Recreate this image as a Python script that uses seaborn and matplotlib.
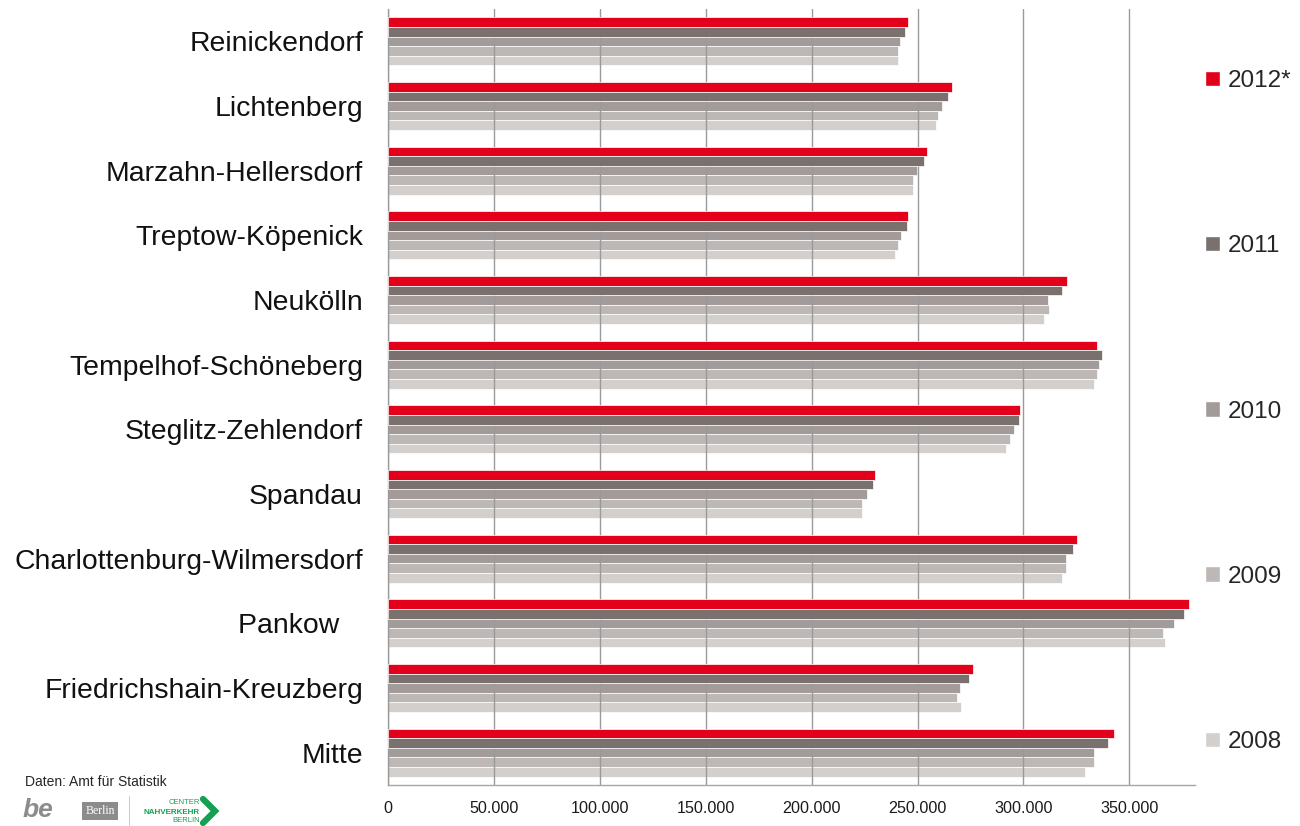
import pandas as pd
import seaborn as sns
import matplotlib.pyplot as plt
from matplotlib.patches import Patch
from matplotlib.lines import Line2D
from matplotlib.ticker import FuncFormatter, FixedLocator

# Districts, top to bottom as in the chart
districts = [
    "Reinickendorf", "Lichtenberg", "Marzahn-Hellersdorf", "Treptow-Köpenick",
    "Neukölln", "Tempelhof-Schöneberg", "Steglitz-Zehlendorf", "Spandau",
    "Charlottenburg-Wilmersdorf", "Pankow   ", "Friedrichshain-Kreuzberg", "Mitte",
]
years = ["2012*", "2011", "2010", "2009", "2008"]

# Inhabitants per district and year
v2012 = [245400, 266300, 254400, 245400, 320600, 334700, 298200, 229800, 325500, 378400, 276000, 342800]
v2011 = [243900, 264300, 253100, 244800, 318000, 336900, 297700, 229000, 323200, 375700, 274400, 340000]
v2010 = [241500, 261600, 249800, 242300, 311800, 335900, 295600, 226200, 320300, 370900, 270000, 333100]
v2009 = [241000, 259600, 247900, 241000, 312300, 334700, 293700, 223700, 319900, 365700, 268700, 333100]
v2008 = [241000, 258800, 247900, 239400, 309800, 333100, 291700, 223700, 318300, 366900, 270500, 329300]

colors = ["#E2001A", "#7A706D", "#A39B99", "#BDB7B5", "#D3CFCD"]

df = pd.DataFrame({"district": districts * 5,
                   "year": [y for y in years for _ in districts],
                   "value": v2012 + v2011 + v2010 + v2009 + v2008})

sns.set_style("white")
plt.rcParams["font.family"] = ["Liberation Sans", "DejaVu Sans"]

fig = plt.figure(figsize=(13, 8.26), dpi=100)
ax = fig.add_axes([388 / 1300, 1 - 785 / 826, (1195 - 388) / 1300, (785 - 9) / 826])

sns.barplot(data=df, x="value", y="district", hue="year", hue_order=years,
            palette=colors, saturation=1, orient="h", width=0.74, errorbar=None,
            edgecolor="white", linewidth=0.5, legend=False, ax=ax)

# grid above the light bars, below the two dark ones
ax.set_axisbelow(False)
ax.grid(axis="x", color="#9a9a9a", linewidth=1)
ax.grid(axis="y", visible=False)
for cont in ax.containers[:2]:
    for p in cont:
        p.set_zorder(3)

ax.set_xlim(0, 381000)
ax.set_xticks(range(0, 350001, 50000))
ax.xaxis.set_major_formatter(FuncFormatter(lambda v, _: f"{int(v):,}".replace(",", ".")))
ax.set_xlabel("")
ax.set_ylabel("")

for s in ["top", "right"]:
    ax.spines[s].set_visible(False)
for s in ["left", "bottom"]:
    ax.spines[s].set_color("#a6a6a6")
    ax.spines[s].set_linewidth(1)

ax.tick_params(axis="x", length=4.5, color="#a6a6a6", pad=7, labelsize=11.6, labelcolor="#1a1a1a")
ax.tick_params(axis="y", which="major", length=0, pad=18, labelsize=20.4, labelcolor="#111111")
ax.yaxis.set_minor_locator(FixedLocator([i - 0.5 for i in range(len(districts) + 1)]))
ax.tick_params(axis="y", which="minor", length=5, color="#a6a6a6", direction="out")

handles = [Patch(facecolor=c, edgecolor="white", label=y) for y, c in zip(years, colors)]
fig.legend(handles=handles, loc="center left", bbox_to_anchor=(1205 / 1300, 1 - 411.5 / 826),
           frameon=False, fontsize=17.5, labelspacing=5.89, handlelength=0.6,
           handleheight=0.6, handletextpad=0.35, borderpad=0, borderaxespad=0)

# footer: source and logos
fig.text(25 / 1300, 1 - 782 / 826, "Daten: Amt für Statistik", fontsize=10, va="center")
fig.text(23 / 1300, 1 - 810 / 826, "be", fontsize=19, fontweight="bold", style="italic",
         color="#8c8c8c", va="center")
fig.text(100 / 1300, 1 - 811 / 826, "Berlin", fontsize=8.5, family="Liberation Serif",
         color="white", ha="center", va="center",
         bbox=dict(boxstyle="square,pad=0.25", fc="#8c8c8c", ec="none"))
fig.add_artist(Line2D([129 / 1300, 129 / 1300], [1 - 796 / 826, 1 - 825 / 826],
                      color="#cccccc", lw=0.8))
green = "#12A150"
fig.text(200 / 1300, 1 - 803 / 826, "CENTER", fontsize=5.5, color=green, ha="right", va="center")
fig.text(200 / 1300, 1 - 812 / 826, "NAHVERKEHR", fontsize=5.8, fontweight="bold",
         color=green, ha="right", va="center")
fig.text(200 / 1300, 1 - 820 / 826, "BERLIN", fontsize=5.5, color=green, ha="right", va="center")
fig.add_artist(Line2D([203 / 1300, 215 / 1300, 203 / 1300], [1 - 799 / 826, 1 - 811 / 826, 1 - 823 / 826],
                      color=green, lw=4.5, solid_joinstyle="miter"))

fig.savefig("out.png", dpi=100)
